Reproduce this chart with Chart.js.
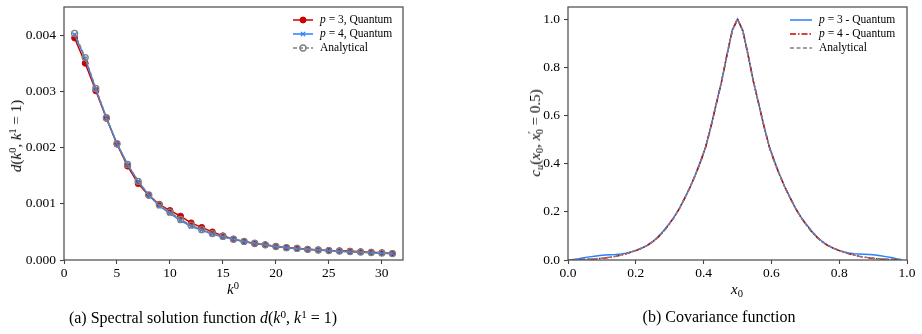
<!DOCTYPE html>
<html><head><meta charset="utf-8">
<script src="https://cdn.jsdelivr.net/npm/chart.js@4.4.0/dist/chart.umd.min.js"></script>
<style>
html,body{margin:0;padding:0;background:#fff;}
#wrap{position:relative;width:922px;height:334px;overflow:hidden;font-family:"Liberation Serif",serif;color:#000;}
canvas{position:absolute;top:0;}
.t{position:absolute;white-space:nowrap;font-size:15px;line-height:16px;}
.cap{position:absolute;white-space:nowrap;font-size:16px;line-height:18px;transform:translate(-50%,-50%);}
sup{font-size:0.7em;vertical-align:0.45em;line-height:0;}
sub{font-size:0.7em;vertical-align:-0.25em;line-height:0;}
</style></head>
<body>
<div id="wrap">
<canvas id="cA" width="460" height="334" style="left:0;width:460px;height:334px"></canvas>
<canvas id="cB" width="462" height="334" style="left:460px;width:462px;height:334px"></canvas>
<div class="t" style="left:233px;top:289px;transform:translate(-50%,-50%)"><i>k</i><sup>0</sup></div>
<div class="t" style="left:16px;top:136px;transform:translate(-50%,-50%) rotate(-90deg)"><i>d</i>(<i>k</i><sup>0</sup>, <i>k</i><sup>1</sup> = 1)</div>
<div class="t" style="left:737px;top:289px;transform:translate(-50%,-50%)"><i>x</i><sub>0</sub></div>
<div class="t" style="left:535px;top:133px;transform:translate(-50%,-50%) rotate(-90deg)"><i>c<sub>u</sub></i>(<i>x</i><sub>0</sub>, <i>x</i><sup>′</sup><sub style="margin-left:-3px">0</sub> = 0.5)</div>
<div class="cap" style="left:203px;top:318px">(a) Spectral solution function <i>d</i>(<i>k</i><sup>0</sup>, <i>k</i><sup>1</sup> = 1)</div>
<div class="cap" style="left:719px;top:317px">(b) Covariance function</div>
</div>
<script>
// ---------- data: left panel ----------
const kValues = [1,2,3,4,5,6,7,8,9,10,11,12,13,14,15,16,17,18,19,20,21,22,23,24,25,26,27,28,29,30,31];
const dP3 = [0.00395,0.0035,0.00301,0.00252,0.00206,0.00167,0.00136,0.00115,0.00099,0.00088,0.00078,0.00066,0.00058,0.0005,0.00043,0.00037,0.00033,0.00029,0.00027,0.00024,0.00022,0.00021,0.00019,0.00018,0.00017,0.000165,0.000158,0.000148,0.00014,0.00013,0.000115];
const dP4 = [0.00401,0.00358,0.00304,0.00253,0.00207,0.0017,0.0014,0.00115,0.00096,0.00083,0.0007,0.0006,0.00053,0.00046,0.00041,0.00037,0.00033,0.0003,0.00027,0.00024,0.00022,0.0002,0.00019,0.000176,0.000165,0.000154,0.000143,0.000136,0.000128,0.00012,0.000112];
const dAnalytical = [0.00403,0.0036,0.00305,0.00253,0.00207,0.0017,0.0014,0.00116,0.00098,0.00085,0.00072,0.00062,0.00054,0.00047,0.00042,0.00037,0.00033,0.0003,0.00027,0.00024,0.00022,0.000205,0.00019,0.000178,0.000167,0.000158,0.000149,0.000141,0.000132,0.000124,0.000114];
const leftXTicks = [0,5,10,15,20,25,30];
const leftYTicks = [0,0.001,0.002,0.003,0.004];
const leftLabels = [['p',' = 3, Quantum'],['p',' = 4, Quantum'],['','Analytical']];

// ---------- data: right panel ----------
const xGrid = [0,0.0156,0.0313,0.0469,0.0625,0.0781,0.0938,0.1094,0.125,0.1406,0.1563,0.1719,0.1875,0.2031,0.2188,0.2344,0.25,0.2656,0.2813,0.2969,0.3125,0.3281,0.3438,0.3594,0.375,0.3906,0.4063,0.4219,0.4375,0.4531,0.4688,0.4844,0.5,0.5156,0.5313,0.5469,0.5625,0.5781,0.5938,0.6094,0.625,0.6406,0.6563,0.6719,0.6875,0.7031,0.7188,0.7344,0.75,0.7656,0.7813,0.7969,0.8125,0.8281,0.8438,0.8594,0.875,0.8906,0.9063,0.9219,0.9375,0.9531,0.9688,0.9844];
const cP3 = [0,0.002,0.005,0.009,0.013,0.016,0.019,0.021,0.022,0.023,0.025,0.028,0.034,0.041,0.05,0.062,0.077,0.096,0.12,0.148,0.178,0.213,0.256,0.30,0.352,0.41,0.47,0.555,0.65,0.74,0.85,0.955,1.0,0.955,0.85,0.74,0.65,0.555,0.47,0.41,0.352,0.30,0.256,0.213,0.178,0.148,0.12,0.096,0.077,0.062,0.05,0.041,0.034,0.029,0.026,0.025,0.024,0.023,0.021,0.018,0.014,0.01,0.005,0.001];
const cP4 = [0,0,0.001,0.002,0.003,0.004,0.006,0.008,0.011,0.015,0.02,0.026,0.033,0.041,0.05,0.061,0.075,0.094,0.117,0.145,0.176,0.212,0.255,0.30,0.35,0.405,0.47,0.555,0.648,0.742,0.85,0.95,1.0,0.95,0.85,0.742,0.648,0.555,0.47,0.405,0.35,0.30,0.255,0.212,0.176,0.145,0.117,0.094,0.075,0.061,0.05,0.041,0.033,0.026,0.02,0.015,0.011,0.008,0.006,0.004,0.003,0.002,0.001,0];
const cAnalytical = [0,0.001,0.002,0.003,0.004,0.005,0.007,0.009,0.012,0.016,0.021,0.027,0.033,0.041,0.05,0.061,0.075,0.094,0.117,0.145,0.176,0.212,0.255,0.30,0.35,0.405,0.47,0.555,0.648,0.742,0.85,0.95,1.0,0.95,0.85,0.742,0.648,0.555,0.47,0.405,0.35,0.30,0.255,0.212,0.176,0.145,0.117,0.094,0.075,0.061,0.05,0.041,0.033,0.027,0.021,0.016,0.012,0.009,0.007,0.005,0.004,0.003,0.002,0.001];
const rightXTicks = [0,0.2,0.4,0.6,0.8,1.0];
const rightYTicks = [0,0.2,0.4,0.6,0.8,1.0];
const rightLabels = [['p',' = 3 - Quantum'],['p',' = 4 - Quantum'],['','Analytical']];

const RED = '#cc0000', BLUE = '#2a7fff', GREY = '#808080';
const TICKFONT = {family:'"Liberation Serif", serif', size:13.5};

const boxPlugin = {
  id:'box',
  afterDatasetsDraw(chart){
    const a = chart.chartArea, ctx = chart.ctx;
    ctx.save(); ctx.strokeStyle = '#555'; ctx.lineWidth = 1.3;
    ctx.strokeRect(a.left, a.top, a.right - a.left, a.bottom - a.top);
    ctx.restore();
  }
};

const legendPlugin = {
  id:'mplLegend',
  afterDraw(chart, args, opts){
    const ctx = chart.ctx;
    chart.data.datasets.forEach((ds, i) => {
      const y = opts.y0 + i*opts.dy;
      ctx.save();
      ctx.strokeStyle = ds.borderColor; ctx.lineWidth = ds.borderWidth;
      ctx.setLineDash(ds.borderDash || []);
      ctx.beginPath(); ctx.moveTo(opts.x0, y); ctx.lineTo(opts.x0 + opts.len, y); ctx.stroke();
      ctx.setLineDash([]);
      if (ds.pointRadius > 0) {
        ctx.fillStyle = ds.pointBackgroundColor; ctx.strokeStyle = ds.pointBorderColor;
        ctx.lineWidth = ds.pointBorderWidth;
        Chart.helpers.drawPoint(ctx, {pointStyle: ds.pointStyle, radius: ds.pointRadius, borderWidth: ds.pointBorderWidth, rotation: 0}, opts.x0 + opts.len/2, y);
      }
      const parts = opts.labels[i];
      let x = opts.x0 + opts.len + opts.pad;
      ctx.fillStyle = '#000'; ctx.textBaseline = 'middle'; ctx.textAlign = 'left';
      if (parts[0]) {
        ctx.font = 'italic ' + opts.size + 'px "Liberation Serif", serif';
        ctx.fillText(parts[0], x, y); x += ctx.measureText(parts[0]).width;
      }
      ctx.font = opts.size + 'px "Liberation Serif", serif';
      ctx.fillText(parts[1], x, y);
      ctx.restore();
    });
  }
};

function axis(min, max, tickList, fmt, fitProp, fitVal, pad){
  return {
    type:'linear', min, max,
    afterBuildTicks: s => { s.ticks = tickList.map(v => ({value:v})); },
    afterFit: s => { s[fitProp] = fitVal; s.paddingTop = 0; s.paddingBottom = 0; s.paddingLeft = 0; s.paddingRight = 0; },
    ticks:{font:TICKFONT, color:'#000', padding:pad, maxRotation:0, autoSkip:false, callback: v => fmt(v)},
    grid:{drawOnChartArea:false, drawTicks:true, tickLength:4, tickColor:'#444', tickWidth:1.1, color:'#444'},
    border:{display:false}
  };
}

new Chart(document.getElementById('cA'), {
  type:'line',
  data:{datasets:[
    {label:'p = 3, Quantum', data:kValues.map((k,i)=>({x:k,y:dP3[i]})), borderColor:RED, borderWidth:1.5, pointStyle:'circle', pointRadius:3, pointBackgroundColor:RED, pointBorderColor:RED, pointBorderWidth:1, order:2},
    {label:'p = 4, Quantum', data:kValues.map((k,i)=>({x:k,y:dP4[i]})), borderColor:BLUE, borderWidth:1.5, pointStyle:'crossRot', pointRadius:3, pointBackgroundColor:BLUE, pointBorderColor:BLUE, pointBorderWidth:1.3, order:1},
    {label:'Analytical', data:kValues.map((k,i)=>({x:k,y:dAnalytical[i]})), borderColor:GREY, borderWidth:1.5, borderDash:[4,2], pointStyle:'circle', pointRadius:3, pointBackgroundColor:'rgba(0,0,0,0)', pointBorderColor:GREY, pointBorderWidth:1.3, order:0}
  ]},
  options:{
    responsive:false, animation:false, events:[], devicePixelRatio:1,
    layout:{padding:{left:0, top:7, right:57, bottom:0}},
    elements:{line:{tension:0}},
    scales:{
      x: axis(0, 32, leftXTicks, v => String(v), 'height', 74, 1),
      y: axis(0, 0.0045, leftYTicks, v => v.toFixed(3), 'width', 64, 4)
    },
    plugins:{legend:{display:false}, tooltip:{enabled:false},
      mplLegend:{x0:293, len:20, pad:7, y0:20, dy:14, size:11.5, labels:leftLabels}}
  },
  plugins:[boxPlugin, legendPlugin]
});

new Chart(document.getElementById('cB'), {
  type:'line',
  data:{datasets:[
    {label:'p = 3 - Quantum', data:xGrid.map((x,i)=>({x,y:cP3[i]})), borderColor:BLUE, borderWidth:1.5, pointRadius:0, order:2},
    {label:'p = 4 - Quantum', data:xGrid.map((x,i)=>({x,y:cP4[i]})), borderColor:RED, borderWidth:1.5, borderDash:[6,2,1.5,2], pointRadius:0, order:1},
    {label:'Analytical', data:xGrid.map((x,i)=>({x,y:cAnalytical[i]})), borderColor:GREY, borderWidth:1.5, borderDash:[4,2.5], pointRadius:0, order:0}
  ]},
  options:{
    responsive:false, animation:false, events:[], devicePixelRatio:1,
    layout:{padding:{left:0, top:7, right:15, bottom:0}},
    elements:{line:{tension:0}},
    scales:{
      x: axis(0, 1, rightXTicks, v => v.toFixed(1), 'height', 74, 1),
      y: axis(0, 1.05, rightYTicks, v => v.toFixed(1), 'width', 108, 4)
    },
    plugins:{legend:{display:false}, tooltip:{enabled:false},
      mplLegend:{x0:330, len:22, pad:7, y0:20, dy:14, size:11.5, labels:rightLabels}}
  },
  plugins:[boxPlugin, legendPlugin]
});
</script>
</body></html>
